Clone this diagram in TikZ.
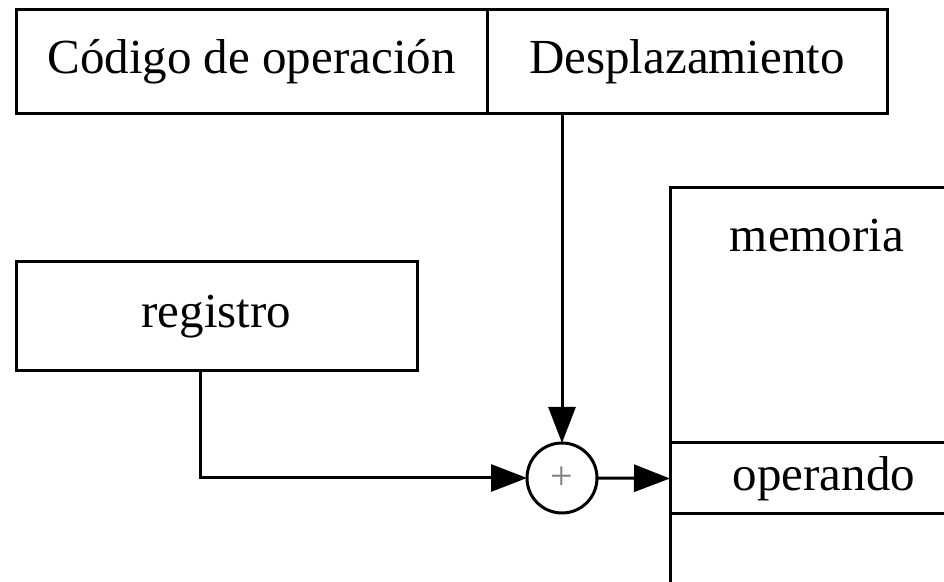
\documentclass[tikz,border=0pt]{standalone}
\usepackage{fontspec}
\setmainfont{Liberation Serif}
\usetikzlibrary{arrows.meta}

\begin{document}
\begin{tikzpicture}[x=0.5pt,y=-0.5pt,line width=1.5pt,
  caja/.style={draw,rectangle,inner sep=0pt,outer sep=0pt,font=\fontsize{24.5}{28}\selectfont},
  flecha/.style={-{Triangle[length=18pt,width=13.5pt]}}]
\useasboundingbox (0,0) rectangle (944,582);
\clip (0,0) rectangle (944,582);

\node[caja,minimum width=235.5pt,minimum height=52pt] (codop) at (251.5,62) {Código de operación};
\node[caja,minimum width=200pt,minimum height=52pt] (desp) at (687,62) {Desplazamiento};
\node[caja,minimum width=200.5pt,minimum height=54.5pt] (reg) at (216.5,316.5) {registro};
\node[caja,minimum width=150pt,minimum height=210pt] (mem) at (820,398) {};
\node[font=\fontsize{24.5}{28}\selectfont,anchor=base] (memlbl) at (817,252) {memoria};
\node[caja,minimum width=154pt,minimum height=35.5pt] (oper) at (824,478.5) {operando};
\node[draw,circle,minimum size=35pt,inner sep=0pt,outer sep=0pt,text=gray,font=\fontsize{20}{20}\selectfont] (suma) at (562,478) {+};

\draw[flecha] (desp.south -| suma) -- (suma.north);
\draw[flecha] ([xshift=-8.25pt]reg.south) |- (suma.west);
\draw[flecha] (suma.east) -- (oper.west);
\end{tikzpicture}
\end{document}
